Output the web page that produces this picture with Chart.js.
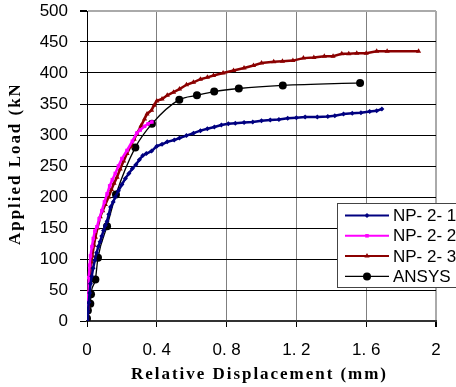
<!DOCTYPE html>
<html>
<head>
<meta charset="utf-8">
<script src="https://cdn.jsdelivr.net/npm/chart.js@4/dist/chart.umd.min.js"></script>
<style>
  html, body { margin: 0; padding: 0; background: #fff; }
  #wrap { width: 456px; height: 387px; }
</style>
</head>
<body>
<div id="wrap"><canvas id="chart" width="456" height="387"></canvas></div>
<script>
// ---- data (displacement mm, load kN) ----
const seriesNames = ['NP- 2- 1', 'NP- 2- 2', 'NP- 2- 3', 'ANSYS'];

const disp1 = [0, 0.005, 0.01, 0.015, 0.02, 0.027, 0.035, 0.045, 0.055, 0.065, 0.075, 0.085, 0.095, 0.105, 0.115, 0.125, 0.135, 0.15, 0.162, 0.18, 0.2, 0.22, 0.24, 0.26, 0.28, 0.3, 0.32, 0.34, 0.37, 0.4, 0.43, 0.46, 0.5, 0.53, 0.57, 0.61, 0.65, 0.69, 0.73, 0.77, 0.81, 0.85, 0.9, 0.95, 1.0, 1.05, 1.1, 1.15, 1.2, 1.25, 1.32, 1.38, 1.42, 1.47, 1.52, 1.57, 1.62, 1.66, 1.69];
const load1 = [0, 15, 30, 45, 60, 72, 85, 98, 110, 120, 128, 137, 146, 154, 161, 172, 184, 192, 200, 210, 220, 230, 238, 246, 252, 260, 267, 270, 274, 282, 285, 289, 292, 295, 299, 303, 307, 310, 313, 316, 318, 319, 320, 321, 323, 324, 325, 327, 328, 329, 329, 330, 331, 334, 335, 336, 338, 339, 342];

const disp2 = [0, 0.003, 0.006, 0.01, 0.015, 0.02, 0.028, 0.036, 0.045, 0.057, 0.07, 0.085, 0.1, 0.115, 0.13, 0.145, 0.162, 0.18, 0.2, 0.229, 0.26, 0.285, 0.305, 0.33, 0.35, 0.372];
const load2 = [0, 20, 45, 70, 90, 105, 120, 133, 145, 152, 165, 178, 192, 205, 218, 228, 238, 250, 262, 275, 290, 303, 308, 314, 318, 321];

const disp3 = [0, 0.005, 0.01, 0.018, 0.025, 0.03, 0.04, 0.048, 0.06, 0.076, 0.09, 0.105, 0.124, 0.14, 0.155, 0.172, 0.19, 0.21, 0.229, 0.25, 0.27, 0.286, 0.31, 0.33, 0.344, 0.37, 0.385, 0.4, 0.43, 0.46, 0.496, 0.53, 0.57, 0.61, 0.65, 0.69, 0.725, 0.78, 0.84, 0.9, 0.954, 1.0, 1.07, 1.12, 1.18, 1.24, 1.3, 1.36, 1.41, 1.46, 1.5, 1.546, 1.6, 1.66, 1.72, 1.9];
const load3 = [0, 25, 49, 75, 95, 105, 122, 135, 150, 168, 178, 188, 200, 212, 222, 232, 245, 258, 270, 282, 293, 302, 315, 326, 334, 340, 348, 355, 358, 364, 369, 374, 381, 385, 390, 393, 396, 400, 404, 408, 412, 416, 418, 419, 420, 424, 425, 427, 427, 431, 431, 432, 432, 435, 435, 435];

const dispA = [0, 0.005, 0.019, 0.023, 0.048, 0.063, 0.115, 0.166, 0.277, 0.372, 0.529, 0.63, 0.729, 0.87, 1.122, 1.565];
const loadA = [4, 17, 28, 43, 67, 102, 153, 204, 280, 318, 357, 364, 370, 375, 380, 384];

const xTicks = [0, 0.4, 0.8, 1.2, 1.6, 2];

function pts(xs, ys) { return xs.map((x, i) => ({ x: x, y: ys[i] })); }

// axis titles + boxed legend (legend sits half outside the canvas like the original)
const extras = {
  id: 'extras',
  afterDraw(chart) {
    const ctx = chart.ctx;
    const font = 'bold 17px "Liberation Serif", "Times New Roman", serif';

    // x title, stretched to the original width
    ctx.save();
    ctx.font = font;
    ctx.fillStyle = '#000';
    ctx.textBaseline = 'middle';
    let t = 'Relative Displacement (mm)';
    let w = ctx.measureText(t).width;
    ctx.letterSpacing = ((257 - w) / t.length) + 'px';
    ctx.textAlign = 'left';
    ctx.fillText(t, 131, 375);

    // y title, rotated, top end hidden like the picture
    ctx.beginPath();
    ctx.rect(0, 86, 60, 300);
    ctx.clip();
    ctx.translate(16, 245);
    ctx.rotate(-Math.PI / 2);
    ctx.fillText('Applied Load (kN)', 0, 0);
    ctx.restore();

    // legend
    ctx.save();
    ctx.fillStyle = '#fff';
    ctx.fillRect(337.5, 203.5, 130, 84);
    ctx.strokeStyle = '#444';
    ctx.lineWidth = 1;
    ctx.strokeRect(337.5, 203.5, 130, 84);
    chart.data.datasets.forEach((ds, i) => {
      const y = 215.5 + i * 20.3;
      ctx.strokeStyle = ds.borderColor;
      ctx.lineWidth = Math.min(ds.borderWidth, 2);
      ctx.beginPath();
      ctx.moveTo(345, y);
      ctx.lineTo(389, y);
      ctx.stroke();
      ctx.fillStyle = ds.pointBackgroundColor;
      ctx.strokeStyle = ds.borderColor;
      Chart.helpers.drawPoint(ctx, {
        pointStyle: ds.pointStyle, radius: ds.pointRadius, rotation: 0, borderWidth: 0
      }, 367, y);
      ctx.fillStyle = '#000';
      ctx.font = '17px "Liberation Sans", Arial, sans-serif';
      ctx.textBaseline = 'middle';
      ctx.textAlign = 'left';
      ctx.fillText(ds.label, 393, y + 1);
    });
    ctx.restore();
  }
};

const tickFont = { family: '"Liberation Sans", Arial, sans-serif', size: 17 };

new Chart(document.getElementById('chart'), {
  type: 'scatter',
  data: {
    datasets: [
      {
        label: seriesNames[0], data: pts(disp1, load1), showLine: true,
        borderColor: '#000080', pointBackgroundColor: '#000080', borderWidth: 2.5,
        pointStyle: 'rectRot', pointRadius: 2.5, pointBorderWidth: 0
      },
      {
        label: seriesNames[1], data: pts(disp2, load2), showLine: true,
        borderColor: '#ff00ff', pointBackgroundColor: '#ff00ff', borderWidth: 2.5,
        pointStyle: 'rect', pointRadius: 2.5, pointBorderWidth: 0
      },
      {
        label: seriesNames[2], data: pts(disp3, load3), showLine: true,
        borderColor: '#8b0000', pointBackgroundColor: '#8b0000', borderWidth: 2.5,
        pointStyle: 'triangle', pointRadius: 3, pointBorderWidth: 0
      },
      {
        label: seriesNames[3], data: pts(dispA, loadA), showLine: true,
        borderColor: '#000', pointBackgroundColor: '#000', borderWidth: 1.3,
        pointStyle: 'circle', pointRadius: 4, pointBorderWidth: 0,
        cubicInterpolationMode: 'monotone'
      }
    ]
  },
  options: {
    responsive: false,
    animation: false,
    events: [],
    layout: { padding: { left: 0, top: 11, right: 20, bottom: 0 } },
    plugins: { legend: { display: false }, tooltip: { enabled: false } },
    scales: {
      x: {
        type: 'linear', min: 0, max: 2,
        afterBuildTicks(scale) { scale.ticks = xTicks.map(v => ({ value: v })); },
        afterFit(scale) { scale.height = 66; scale.paddingLeft = 0; scale.paddingRight = 0; },
        ticks: {
          color: '#000', font: tickFont, padding: 13, maxRotation: 0,
          callback: v => (v === 0 || v === 2) ? String(v) : v.toFixed(1).replace('.', '. ')
        },
        grid: {
          color: c => c.tick && c.tick.value === 2 ? '#aaa' : '#7f7f7f',
          lineWidth: c => c.tick && c.tick.value === 2 ? 2 : 1,
          tickLength: 6, tickColor: '#000'
        },
        border: { color: '#333', width: 2 }
      },
      y: {
        min: 0, max: 500,
        afterFit(scale) { scale.width = 87; scale.paddingTop = 0; scale.paddingBottom = 0; },
        ticks: { stepSize: 50, color: '#000', font: tickFont, padding: 12 },
        grid: {
          color: c => c.tick && c.tick.value === 500 ? '#aaa' : '#000',
          lineWidth: c => c.tick && c.tick.value === 500 ? 2 : 1,
          tickLength: 7, tickColor: '#000'
        },
        border: { color: '#000', width: 1 }
      }
    }
  },
  plugins: [extras]
});
</script>
</body>
</html>
